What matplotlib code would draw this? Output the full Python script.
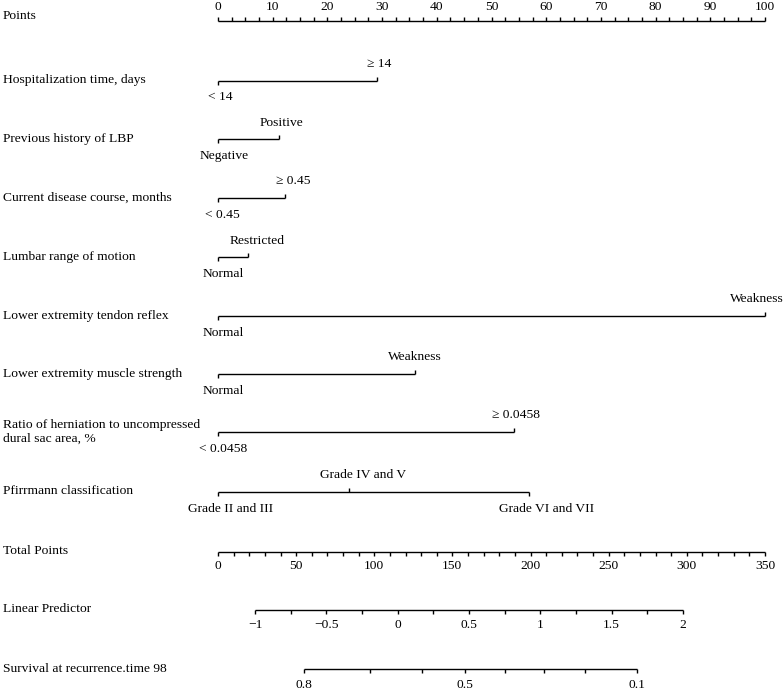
import numpy as np
import matplotlib
matplotlib.use("Agg")
import matplotlib.pyplot as plt
from matplotlib.transforms import blended_transform_factory, offset_copy

plt.rcParams['font.family'] = ['Liberation Serif', 'DejaVu Serif']

# ---------------- data ----------------
variables = [
    "Hospitalization time, days",
    "Previous history of LBP",
    "Current disease course, months",
    "Lumbar range of motion",
    "Lower extremity tendon reflex",
    "Lower extremity muscle strength",
    "Ratio of herniation to uncompressed\ndural sac area, %",
    "Pfirrmann classification",
]
level_labels = [
    ["< 14", "≥ 14"],
    ["Negative", "Positive"],
    ["< 0.45", "≥ 0.45"],
    ["Normal", "Restricted"],
    ["Normal", "Weakness"],
    ["Normal", "Weakness"],
    ["< 0.0458", "≥ 0.0458"],
    ["Grade II and III", "Grade IV and V", "Grade VI and VII"],
]
level_points = [
    [0, 29.0],
    [0, 11.1],
    [0, 12.3],
    [0, 5.4],
    [0, 100.0],
    [0, 36.0],
    [0, 54.1],
    [0, 24.0, 56.9],
]
points_major = np.arange(0, 101, 10)
points_minor = np.arange(0, 100.1, 2.5)
total_major = np.arange(0, 351, 50)
total_minor = np.arange(0, 351, 10)
total_max = 350
lp_major = [-1, -0.5, 0, 0.5, 1, 1.5, 2]
lp_major_labels = ["\u22121", "\u22120.5", "0", "0.5", "1", "1.5", "2"]
lp_minor = np.arange(-1, 2.01, 0.25)
lp_intercept_tp = 115.0   # total points at linear predictor 0
lp_slope_tp = 91.27       # total points per unit linear predictor
surv_ticks = [0.8, 0.7, 0.6, 0.5, 0.4, 0.3, 0.2, 0.1]
surv_labels = ["0.8", "", "", "0.5", "", "", "", "0.1"]
surv_shift = 0.84         # lp = log(-log(S)) + shift

# ---------------- layout ----------------
# horizontal nudges (pixels) of the level labels, as in the reference
label_nudge = [
    [2, 3],
    [6, 3],
    [4, 8],
    [5, 10],
    [5, 0],
    [5, 0],
    [5, 2],
    [13, 14, 17],
]
W, H, DPI = 7.84, 6.9, 100
fig = plt.figure(figsize=(W, H), dpi=DPI)
ax = fig.add_axes([0, 0, 1, 1])
x0_px, px_per_pt = 218.0, 5.47
ax.set_xlim(-x0_px / px_per_pt, (784 - x0_px) / px_per_pt)
ax.set_ylim(690, 0)
ax.axis('off')

FS = 9.7
LW = 1.0
TL = 4.0  # tick length (pixels)
label_x = 3
tb = blended_transform_factory(fig.transFigure, ax.transData)

def tp_to_pts(tp):
    return np.asarray(tp, dtype=float) * 100.0 / total_max

def lp_to_pts(lp):
    return tp_to_pts(lp_intercept_tp + lp_slope_tp * np.asarray(lp, dtype=float))

def surv_to_pts(s):
    s = np.asarray(s, dtype=float)
    return lp_to_pts(np.log(-np.log(s)) + surv_shift)

def left_label(y, text):
    ax.text(label_x / 784, y, text, transform=tb, ha='left', va='center',
            fontsize=FS, linespacing=1.15)

# Points axis
y_pts = 21
left_label(16, "Points")
ax.hlines(y_pts, points_major[0], points_major[-1], color='black', lw=LW)
ax.vlines(points_minor, y_pts, y_pts - TL, color='black', lw=LW)
for v in points_major:
    ax.text(v, 7, f"{v:g}", ha='center', va='center', fontsize=FS)

# variable rows
row_y = [80.5, 139, 197.5, 257, 315.5, 373.5, 432, 491.5]
for name, labs, pts, nud, y in zip(variables, level_labels, level_points, label_nudge, row_y):
    left_label(y, name)
    ax.hlines(y, min(pts), max(pts), color='black', lw=LW)
    for i, (lab, p, dx) in enumerate(zip(labs, pts, nud)):
        above = (i % 2 == 1)
        ty = y - 16.5 if above else y + 17
        ax.vlines(p, y, y - TL if above else y + TL, color='black', lw=LW)
        xpix = x0_px + p * px_per_pt
        if xpix + 30 > 784:
            ax.text(0.9995, ty, lab, transform=tb, ha='right', va='center', fontsize=FS)
        else:
            tr = offset_copy(ax.transData, fig=fig, x=dx * 72.0 / DPI, y=0, units='points')
            ax.text(p, ty, lab, transform=tr, ha='center', va='center', fontsize=FS)

# Total points
y_tot = 551.5
left_label(y_tot, "Total Points")
ax.hlines(y_tot, tp_to_pts(total_major[0]), tp_to_pts(total_major[-1]), color='black', lw=LW)
ax.vlines(tp_to_pts(total_minor), y_tot, y_tot + TL, color='black', lw=LW)
for v in total_major:
    ax.text(tp_to_pts(v), y_tot + 14.5, f"{v:g}", ha='center', va='center', fontsize=FS)

# Linear predictor
y_lp = 609.5
left_label(y_lp, "Linear Predictor")
ax.hlines(y_lp, lp_to_pts(lp_major[0]), lp_to_pts(lp_major[-1]), color='black', lw=LW)
ax.vlines(lp_to_pts(lp_minor), y_lp, y_lp + TL, color='black', lw=LW)
for v, lab in zip(lp_major, lp_major_labels):
    ax.text(lp_to_pts(v), y_lp + 16, lab, ha='center', va='center', fontsize=FS)

# Survival
y_s = 668.5
left_label(y_s, "Survival at recurrence.time 98")
ax.hlines(y_s, surv_to_pts(surv_ticks[0]), surv_to_pts(surv_ticks[-1]), color='black', lw=LW)
ax.vlines(surv_to_pts(surv_ticks), y_s, y_s + TL, color='black', lw=LW)
for v, lab in zip(surv_ticks, surv_labels):
    if lab:
        ax.text(surv_to_pts(v), y_s + 16, lab, ha='center', va='center', fontsize=FS)

fig.savefig("out.png", dpi=DPI, facecolor='white')
